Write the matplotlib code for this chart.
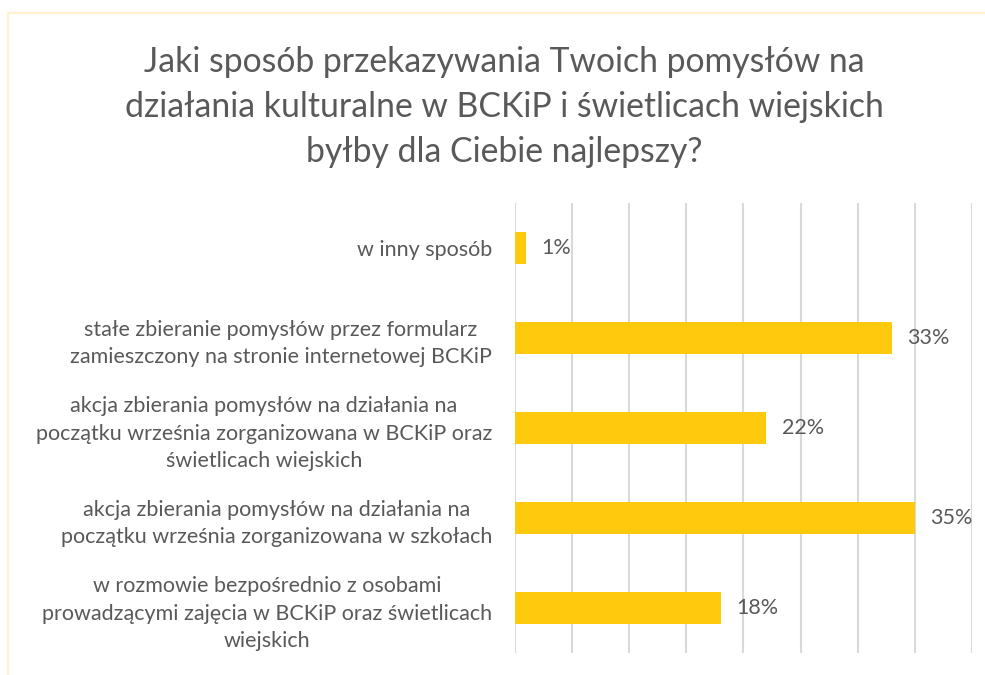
import matplotlib.pyplot as plt
from matplotlib.lines import Line2D
from matplotlib.ticker import MultipleLocator

plt.rcParams['font.family'] = ['Lato', 'DejaVu Sans']

# Data (top to bottom as in the chart)
categories = [
    'w inny sposób',
    'stałe zbieranie pomysłów przez formularz\nzamieszczony na stronie internetowej BCKiP',
    'akcja zbierania pomysłów na działania na\npoczątku września zorganizowana w BCKiP oraz\nświetlicach wiejskich',
    'akcja zbierania pomysłów na działania na\npoczątku września zorganizowana w szkołach',
    'w rozmowie bezpośrednio z osobami\nprowadzącymi zajęcia w BCKiP oraz świetlicach\nwiejskich',
]
values = [0.01, 0.33, 0.22, 0.35, 0.18]
value_labels = ['1%', '33%', '22%', '35%', '18%']

title = ('Jaki sposób przekazywania Twoich pomysłów na\n'
         'działania kulturalne w BCKiP i świetlicach wiejskich\n'
         'byłby dla Ciebie najlepszy?')

text_color = '#595959'
bar_color = '#FFC90E'

fig = plt.figure(figsize=(9.85, 6.75), dpi=100)
ax = fig.add_axes([0.5228, 0.0326, 0.464, 0.6667])

pos = list(range(len(categories)))
ax.barh(pos, values, height=0.36, color=bar_color, zorder=3)

ax.set_xlim(0, 0.40)
ax.set_ylim(len(categories) - 0.5, -0.5)
ax.xaxis.set_major_locator(MultipleLocator(0.05))
ax.grid(axis='x', color='#D9D9D9', linewidth=1.5, zorder=0)
ax.tick_params(axis='x', length=0, labelbottom=False)
ax.tick_params(axis='y', length=0, pad=16.5)
for s in ax.spines.values():
    s.set_visible(False)

ax.set_yticks(pos)
ax.set_yticklabels(categories, fontsize=15.5, color=text_color, linespacing=1.45)
for t in ax.get_yticklabels():
    t.set_multialignment('center')

for p, v, lab in zip(pos, values, value_labels):
    ax.annotate(lab, (v, p), xytext=(11, 0), textcoords='offset points',
                va='center', ha='left', fontsize=15.5, color=text_color)

fig.text(0.512, 0.842, title, ha='center', va='center', fontsize=24.3,
         color=text_color, linespacing=1.5)

# light yellow chart border (left and top visible)
fig.add_artist(Line2D([8 / 985, 8 / 985], [0, 1 - 13 / 675], color='#FFF2CC',
                      linewidth=1.5, transform=fig.transFigure))
fig.add_artist(Line2D([8 / 985, 1], [1 - 13 / 675, 1 - 13 / 675], color='#FFF2CC',
                      linewidth=1.5, transform=fig.transFigure))

fig.savefig('out.png', dpi=100, facecolor='white')
